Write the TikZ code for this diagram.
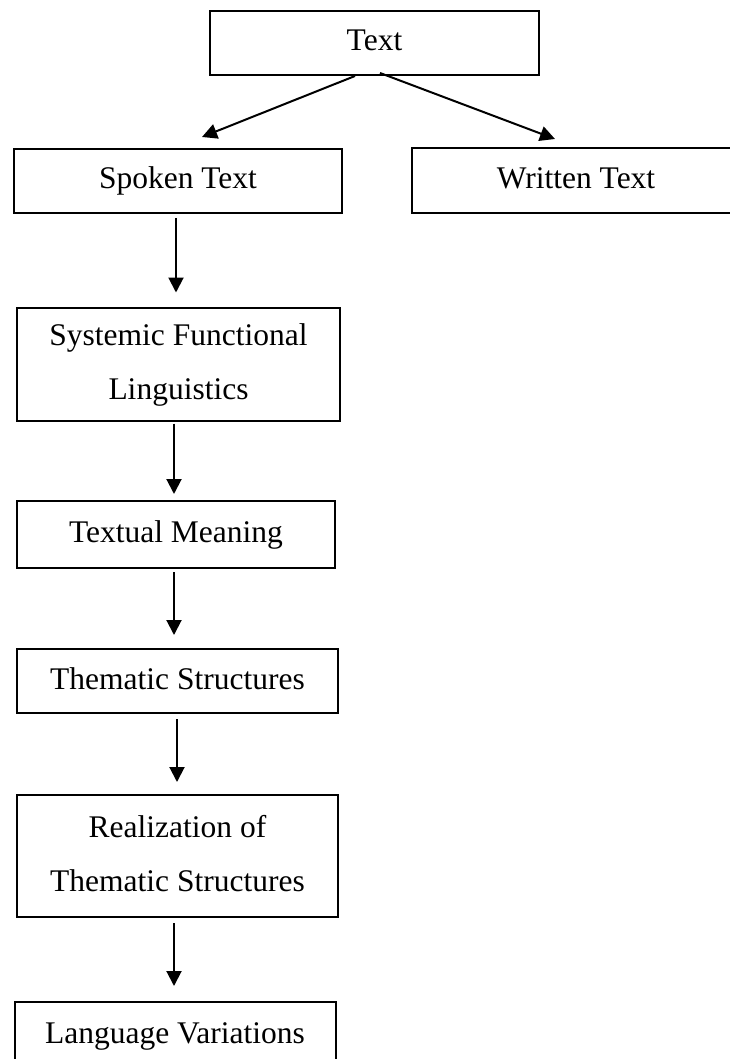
\documentclass[tikz,border=0pt]{standalone}
\usepackage{fontspec}
\setmainfont{Liberation Serif}
\usetikzlibrary{arrows.meta}
\newcommand{\mystrut}{\rule[-7pt]{0pt}{30pt}}
\begin{document}
\begin{tikzpicture}[x=1pt,y=-1pt,
  box/.style={draw, line width=2pt, inner sep=0pt, align=center,
    font=\fontsize{31.5}{54}\selectfont},
  arr/.style={line width=2pt, -{Triangle[length=15pt,width=15pt]}}]
\useasboundingbox (0,0) rectangle (730,1059);
\clip (0,0) rectangle (730,1059);
\node[box, minimum width=329pt, minimum height=64pt] (text) at (374.5,43) {\mystrut Text};
\node[box, minimum width=328pt, minimum height=64pt] (spoken) at (178,181) {\mystrut Spoken Text};
\node[box, minimum width=328pt, minimum height=65pt] (written) at (576,180.5) {\mystrut Written Text};
\node[box, minimum width=323pt, minimum height=113pt] (sfl) at (178.5,364) {\mystrut Systemic Functional\\\mystrut Linguistics};
\node[box, minimum width=318pt, minimum height=67pt] (tm) at (176,534.5) {\mystrut Textual Meaning};
\node[box, minimum width=321pt, minimum height=64pt] (ts) at (177.5,681) {\mystrut Thematic Structures};
\node[box, minimum width=321pt, minimum height=122pt] (real) at (177.5,856) {\mystrut Realization of\\\mystrut Thematic Structures};
\node[box, minimum width=321pt, minimum height=66pt] (lv) at (175,1035) {\mystrut Language Variations};
\draw[arr] ([xshift=-19.5pt]text.south) -- ([xshift=24pt,yshift=11pt]spoken.north);
\draw[arr] ([xshift=5.5pt,yshift=3pt]text.south) -- ([xshift=-21pt,yshift=8pt]written.north);
\draw[arr] ([xshift=-2pt,yshift=-4pt]spoken.south) -- ([xshift=-2.5pt,yshift=14pt]sfl.north);
\draw[arr] ([xshift=-4.5pt,yshift=-2pt]sfl.south) -- ([xshift=-2pt,yshift=6pt]tm.north);
\draw[arr] ([xshift=-2pt,yshift=-3pt]tm.south) -- ([xshift=-3.5pt,yshift=13pt]ts.north);
\draw[arr] ([xshift=-0.5pt,yshift=-5pt]ts.south) -- ([xshift=-0.5pt,yshift=12pt]real.north);
\draw[arr] ([xshift=-3.5pt,yshift=-5pt]real.south) -- ([xshift=-1pt,yshift=15pt]lv.north);
\end{tikzpicture}
\end{document}
